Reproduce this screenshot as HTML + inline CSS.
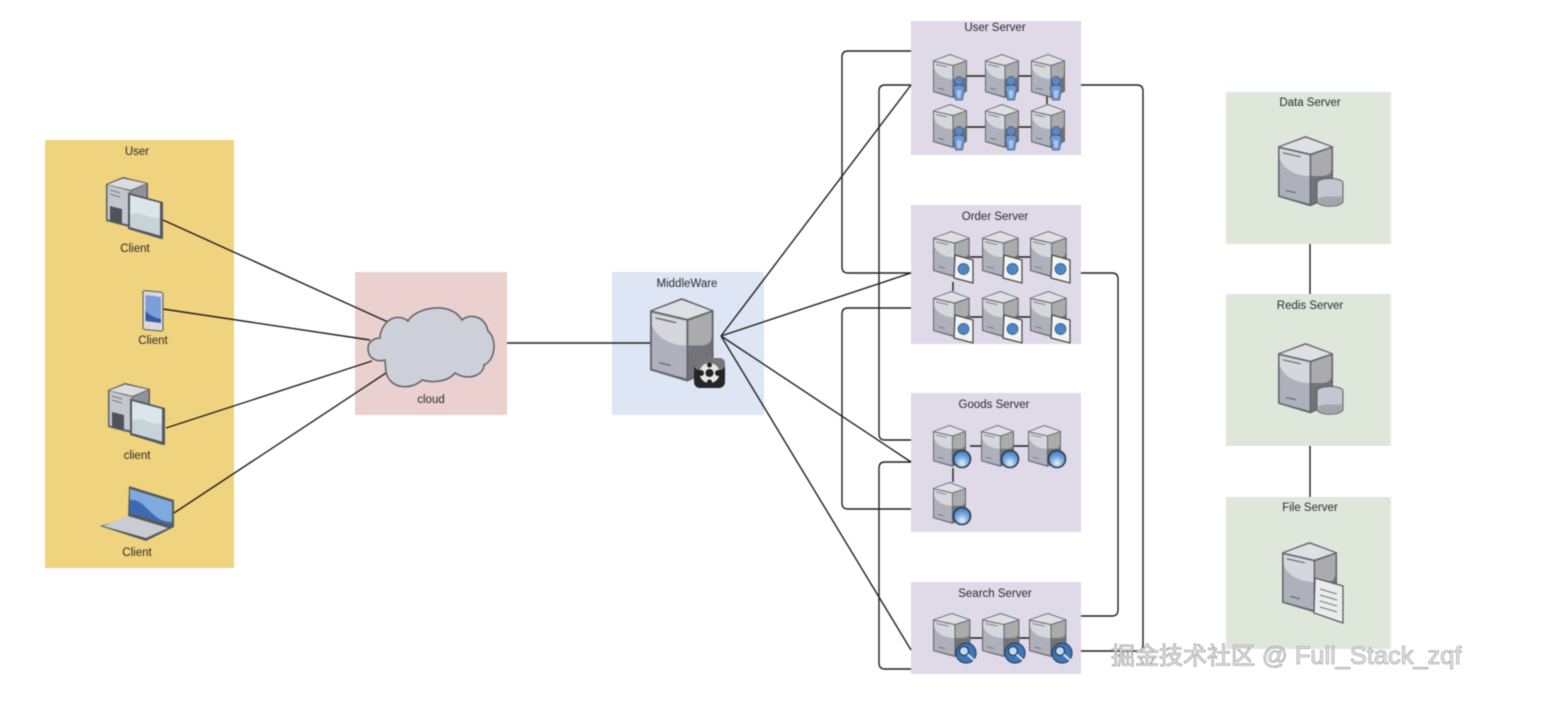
<!DOCTYPE html>
<html><head><meta charset="utf-8">
<style>
html,body{margin:0;padding:0;background:#fff;width:1554px;height:710px;overflow:hidden}
svg{display:block;position:absolute;left:0;top:0;filter:blur(.4px)}
text{font-family:"Liberation Sans","Noto Sans CJK SC",sans-serif;font-size:11.5px;fill:#2a2a2a;text-anchor:middle}
.l{fill:none;stroke:#1f1f1f;stroke-width:1.4}
.wm{font-size:24px;text-anchor:start;fill:#ececec;stroke:#8c8c8c;stroke-width:.6;}
.wm tspan{font-size:25.4px}
</style></head><body>
<svg width="1554" height="710" viewBox="0 0 1554 710" xmlns="http://www.w3.org/2000/svg">
<defs>
<radialGradient id="gl" cx=".5" cy=".75" r=".7"><stop offset="0" stop-color="#e4f0fb"/><stop offset=".5" stop-color="#7fb0e2"/><stop offset="1" stop-color="#3f78bb"/></radialGradient>
<g id="srv">
<path d="M0 6.500L17 0L34 6.500V37.500L20 44L0 38Z" fill="#62666c"/>
<path d="M1 7.500L19.500 12V42.500L1 37.300Z" fill="#aeb1bc"/>
<path d="M1 8L19.500 12V25C10 25 3 20 1 14Z" fill="#d6d7dd"/>
<path d="M20.500 12L33 7.500V37L20.500 42.500Z" fill="#727479"/>
<path d="M20.500 12L33 7.500V20Q33 25 27 25H20.500Z" fill="#ababad"/>
<path d="M1.500 6.700L17 1L32.500 6.700L20 11Z" fill="#dfe0e4"/>
<path d="M3 10.500L14 13M5 34L11 35.500" stroke="#666" stroke-width=".7" fill="none"/>
</g>
<g id="pc">
<path d="M0 7L17 0L42 6V42L27 51L0 44Z" fill="#5b5f66"/>
<path d="M1.500 8L24 14V48L1.500 42.500Z" fill="#c4c6ce"/>
<path d="M25 14L40.500 7V30L25 40Z" fill="#8f9298"/>
<path d="M1.500 7.500L17 1.500L40 6.500L24.500 13Z" fill="#dcdde1"/>
<path d="M4 29L16 32V47L4 44Z" fill="#4f5359"/>
<path d="M4 13L14 16M4 17L14 20" stroke="#666" stroke-width=".9"/>
<path d="M22 15.500L57 25V62L55 62L22 52Z" fill="#55595e"/>
<path d="M24 18L54 26V58.500L24 50Z" fill="#dce6ea"/>
<path d="M24 38C34 32 44 44 54 40V58.500L24 50Z" fill="#c6d3d9"/>
</g>
<g id="person">
<circle cx="6" cy="5" r="4.500" fill="#5f86bd" stroke="#39557f" stroke-width=".7"/>
<path d="M0 11Q6 7 12 11L9.500 24H2.500Z" fill="#6f97d0" stroke="#39557f" stroke-width=".7"/>
<path d="M3.500 15Q6 13 8.500 15L7.500 22H4.500Z" fill="#a9c5ea"/>
</g>
<g id="doc">
<path d="M1 0L19 5V28L0 23Z" fill="#f2f3f3" stroke="#444" stroke-width="1.200"/>
<circle cx="9.500" cy="14" r="5.500" fill="#4f87c5" stroke="#2e4f7a" stroke-width=".7"/>
</g>
<g id="globe">
<circle cx="9" cy="9" r="8.500" fill="url(#gl)" stroke="#2e3a4c" stroke-width="1.600"/>
</g>
<g id="mag">
<circle cx="10" cy="10" r="10" fill="#3f76b9" stroke="#2d3f5a" stroke-width="1.200"/>
<circle cx="8" cy="8" r="4.500" fill="#c3daf2" stroke="#24364f" stroke-width="1.200"/>
<path d="M11.500 11.500L18 17" stroke="#dce8f5" stroke-width="2"/>
</g>
<g id="cyl">
<path d="M0 5C0 -1 26 -1 26 5V23C26 30 0 30 0 23Z" fill="#c5c7d0" stroke="#5c5f66" stroke-width="1"/>
<path d="M1 21C8 16 16 20 25 18V23C25 29 1 29 1 23Z" fill="#a3a5ae"/>
</g>
</defs>

<!-- panels -->
<rect x="45" y="140" width="189" height="428" fill="#efd37e"/>
<rect x="355" y="272" width="152" height="143" fill="#ebd0d0"/>
<rect x="612" y="272" width="152" height="143" fill="#dee6f6"/>
<rect x="911" y="21" width="170" height="134" fill="#e0d9e8"/>
<rect x="911" y="205" width="170" height="139" fill="#e0d9e8"/>
<rect x="911" y="393" width="170" height="139" fill="#e0d9e8"/>
<rect x="911" y="582" width="170" height="92" fill="#e0d9e8"/>
<rect x="1226" y="92" width="165" height="152" fill="#dfe7da"/>
<rect x="1226" y="294" width="165" height="152" fill="#dfe7da"/>
<rect x="1226" y="497" width="165" height="152" fill="#dfe7da"/>

<!-- connectors -->
<path class="l" d="M163 220L388 322M163 309L370 340M166 428L372 361M174 513L386 373M507 343H650"/>
<path class="l" d="M721 336L911 85M721 336L911 273M721 336L911 462M721 336L911 650"/>
<path class="l" d="M911 51H848Q842 51 842 57V267Q842 273 848 273H911"/>
<path class="l" d="M911 85H885Q879 85 879 91V434Q879 440 885 440H911"/>
<path class="l" d="M911 308H848Q842 308 842 314V503Q842 509 848 509H911"/>
<path class="l" d="M911 462H885Q879 462 879 468V663Q879 669 885 669H911"/>
<path class="l" d="M1081 85H1137Q1143 85 1143 91V645Q1143 651 1137 651H1081"/>
<path class="l" d="M1081 273H1112Q1118 273 1118 279V610Q1118 616 1112 616H1081"/>
<path class="l" d="M1310 244V294M1310 446V497"/>
<path class="l" d="M965 76H985M1017 76H1031M1047 96V104M965 127H985M1017 127H1031M970 257H982M1018 257H1030M970 317H982M1018 317H1030M953 282V291M970 446H982M1014 446H1028M953 468V482M970 638H982M1018 638H1029"/>

<!-- client icons -->
<use href="#pc" transform="translate(106,177)"/>
<use href="#pc" transform="translate(108,383)"/>
<g>
<rect x="143" y="291" width="20" height="39" rx="2" fill="#d9d9dc" stroke="#555" stroke-width="1" transform="skewY(5) translate(0,-13)"/>
<path d="M145.500 295L161 297V322L145.500 320Z" fill="#7a9fd6"/>
<path d="M145.500 311Q152 318 161 319V323L145.500 321Z" fill="#2f5ca5"/>
</g>
<path d="M129 486L174 500V527L146 541L100 526L128 518Z" fill="#555a60"/>
<path d="M130 489L172 502V525L130 513Z" fill="#80aade"/>
<path d="M130 500C146 498 150 522 172 522V525L130 513Z" fill="#3a6bb3"/>
<path d="M128 516L168 528L146 538L103 526Z" fill="#c9ccd2"/>

<!-- cloud -->
<path d="M387 322C393 316 402 316 408 321C415 308 450 300 462 320C470 313 485 316 488 331C497 338 496 360 484 365C484 374 470 382 455 373C448 382 432 383 422 380C412 390 390 390 386 372L385 360C378 362 368 360 368 348C368 342 374 338 380 338C380 332 383 326 387 322Z" fill="#cdd0d9" stroke="#5f6066" stroke-width="1.500"/>

<!-- middleware -->
<use href="#srv" transform="translate(650,298) scale(1.87,1.9)"/>
<rect x="694" y="358" width="31" height="30" rx="6" fill="#26262a"/>
<rect x="694" y="358" width="31" height="12" rx="5" fill="#77777a"/>
<circle cx="709.500" cy="373" r="10" fill="#e8e8e8"/>
<circle cx="709.500" cy="373" r="4" fill="#222"/>
<circle cx="701" cy="373" r="3" fill="#222"/><circle cx="718" cy="373" r="3" fill="#222"/>
<circle cx="709.500" cy="365" r="2.500" fill="#222"/><circle cx="709.500" cy="382" r="2.500" fill="#222"/>

<!-- user servers -->
<use href="#srv" transform="translate(933,54)"/><use href="#srv" transform="translate(985,54)"/><use href="#srv" transform="translate(1031,54)"/>
<use href="#srv" transform="translate(933,104)"/><use href="#srv" transform="translate(985,104)"/><use href="#srv" transform="translate(1031,104)"/>
<use href="#person" transform="translate(953,76)"/><use href="#person" transform="translate(1005,76)"/><use href="#person" transform="translate(1050,76)"/>
<use href="#person" transform="translate(953,126)"/><use href="#person" transform="translate(1005,126)"/><use href="#person" transform="translate(1050,126)"/>

<!-- order servers -->
<g id="o1"><use href="#srv" transform="translate(933,231) scale(1.08,1.05)"/><use href="#doc" transform="translate(954,255)"/></g>
<use href="#o1" transform="translate(49,0)"/><use href="#o1" transform="translate(97,0)"/>
<use href="#o1" transform="translate(0,60)"/><use href="#o1" transform="translate(49,60)"/><use href="#o1" transform="translate(97,60)"/>

<!-- goods servers -->
<g id="g1"><use href="#srv" transform="translate(933,425) scale(.97,.95)"/><use href="#globe" transform="translate(953,450)"/></g>
<use href="#g1" transform="translate(48,0)"/><use href="#g1" transform="translate(95,0)"/><use href="#g1" transform="translate(0,57)"/>

<!-- search servers -->
<g id="s1"><use href="#srv" transform="translate(933,613) scale(1.1,1)"/><use href="#mag" transform="translate(956,643)"/></g>
<use href="#s1" transform="translate(49,0)"/><use href="#s1" transform="translate(96,0)"/>

<!-- right servers -->
<use href="#srv" transform="translate(1278,136) scale(1.62,1.6)"/><use href="#cyl" transform="translate(1317,178)"/>
<use href="#srv" transform="translate(1278,343) scale(1.62,1.6)"/><use href="#cyl" transform="translate(1317,386)"/>
<use href="#srv" transform="translate(1282,542) scale(1.62,1.6)"/>
<path d="M1315 578L1343 586V623L1314 613Z" fill="#e9ecec" stroke="#555" stroke-width="1.200"/>
<path d="M1320 589L1337 594M1320 595L1337 600M1320 601L1337 606M1320 607L1337 612" stroke="#555" stroke-width=".8"/>

<!-- labels -->
<text x="137" y="155">User</text>
<text x="135" y="252">Client</text>
<text x="153" y="344">Client</text>
<text x="137" y="459">client</text>
<text x="137" y="556">Client</text>
<text x="431" y="403">cloud</text>
<text x="687" y="287">MiddleWare</text>
<text x="995" y="31">User Server</text>
<text x="995" y="220">Order Server</text>
<text x="994" y="408">Goods Server</text>
<text x="995" y="597">Search Server</text>
<text x="1310" y="106">Data Server</text>
<text x="1310" y="309">Redis Server</text>
<text x="1310" y="511">File Server</text>

<text class="wm" x="1111" y="664">掘金技术社区<tspan> @ Full_Stack_zqf</tspan></text>
</svg>
</body></html>
